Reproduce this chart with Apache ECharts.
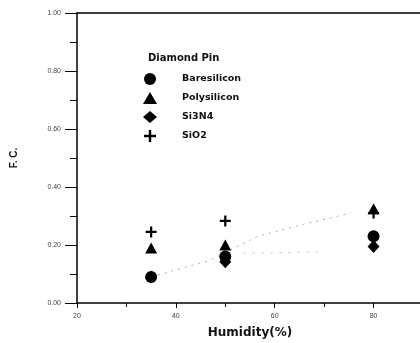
<!DOCTYPE html>
<html><head><meta charset="utf-8">
<script src="https://cdn.jsdelivr.net/npm/echarts@6/dist/echarts.min.js"></script>
<style>html,body{margin:0;padding:0;background:#fff}#c{width:420px;height:343px}</style>
</head><body><div id="c"></div>
<script>
var humidity = [35, 50, 80];
var baresilicon = [0.09, 0.16, 0.23];
var polysilicon = [0.19, 0.20, 0.325];
var si3n4 = [0.09, 0.142, 0.195];
var sio2 = [0.245, 0.283, 0.31];
var fitCurveX = [35, 47, 56.4, 65.2, 75.4];
var fitCurveY = [0.09, 0.148, 0.229, 0.269, 0.31];
var fitCurve2X = [53.7, 69.3];
var fitCurve2Y = [0.172, 0.176];
var seriesNames = ['Baresilicon', 'Polysilicon', 'Si3N4', 'SiO2'];
var legendTitle = 'Diamond Pin';

function pairs(xs, ys) { return xs.map(function (x, i) { return [x, ys[i]]; }); }
var crossPath = 'path://M4,0h2v4h4v2h-4v4h-2v-4h-4v-2h4z';
var font = 'Liberation Sans, Arial, sans-serif';
var wideFont = 'DejaVu Sans, sans-serif';
var markStyle = { color: '#000', opacity: 1 };

var chart = echarts.init(document.getElementById('c'));
chart.setOption({
  animation: false,
  backgroundColor: '#fff',
  grid: { left: 77, top: 13, width: 346, bottom: 40, containLabel: false, outerBoundsMode: 'none' },
  title: {
    text: legendTitle, left: 143, top: 48,
    textStyle: { fontFamily: wideFont, fontSize: 10, fontWeight: 'bold', color: '#111' }
  },
  legend: {
    orient: 'vertical', left: 143, top: 73, padding: 0, itemWidth: 14, itemHeight: 12,
    itemGap: 7,
    data: seriesNames.map(function (n) { return { name: n }; }),
    textStyle: { fontFamily: wideFont, fontSize: 9.5, fontWeight: 'bold', color: '#111',
      padding: [0, 0, 0, 20] }
  },
  xAxis: [{
    type: 'value', min: 20, max: 90, interval: 20,
    name: 'Humidity(%)', nameLocation: 'middle', nameGap: 24,
    nameTextStyle: { fontFamily: wideFont, fontSize: 12, fontWeight: 'bold', color: '#111' },
    axisLine: { show: true, onZero: false, lineStyle: { color: '#000', width: 1.5 } },
    axisTick: { show: true, length: 5, lineStyle: { color: '#000' } },
    minorTick: { show: true, splitNumber: 2, length: 4, lineStyle: { color: '#000' } },
    axisLabel: { fontFamily: font, fontSize: 7, color: '#444', margin: 10, showMaxLabel: false },
    splitLine: { show: false }
  }, {
    type: 'value', position: 'top', min: 20, max: 90,
    axisLine: { show: true, onZero: false, lineStyle: { color: '#000', width: 1.5 } },
    axisTick: { show: false }, axisLabel: { show: false }, splitLine: { show: false }
  }],
  yAxis: {
    type: 'value', min: 0, max: 1, interval: 0.2,
    name: 'F. C.', nameLocation: 'middle', nameGap: 58, nameRotate: 90,
    nameTextStyle: { fontFamily: font, fontSize: 10, fontWeight: 'bold', color: '#111' },
    axisLine: { show: true, lineStyle: { color: '#000', width: 1.5 } },
    axisTick: { show: true, length: 12, lineStyle: { color: '#000' } },
    minorTick: { show: true, splitNumber: 2, length: 7, lineStyle: { color: '#000' } },
    axisLabel: { fontFamily: font, fontSize: 7, color: '#444', margin: 16,
      formatter: function (v) { return v.toFixed(2); } },
    splitLine: { show: false }
  },
  series: [
    { type: 'line', data: pairs(fitCurveX, fitCurveY), symbol: 'none', silent: true,
      lineStyle: { color: '#aaa', width: 1, type: [2, 5] }, z: 1 },
    { type: 'line', data: pairs(fitCurve2X, fitCurve2Y), symbol: 'none', silent: true,
      lineStyle: { color: '#c4c4c4', width: 1, type: [2, 7] }, z: 1 },
    { name: 'Si3N4', type: 'scatter', data: pairs(humidity, si3n4), symbol: 'diamond',
      symbolSize: [12, 13], itemStyle: markStyle, z: 2 },
    { name: 'SiO2', type: 'scatter', data: pairs(humidity, sio2), symbol: crossPath,
      symbolSize: 11, itemStyle: markStyle, z: 2 },
    { name: 'Polysilicon', type: 'scatter', data: pairs(humidity, polysilicon), symbol: 'triangle',
      symbolSize: [12, 11], itemStyle: markStyle, z: 3 },
    { name: 'Baresilicon', type: 'scatter', data: pairs(humidity, baresilicon), symbol: 'circle',
      symbolSize: 12, itemStyle: markStyle, z: 4 }
  ]
});
</script></body></html>
